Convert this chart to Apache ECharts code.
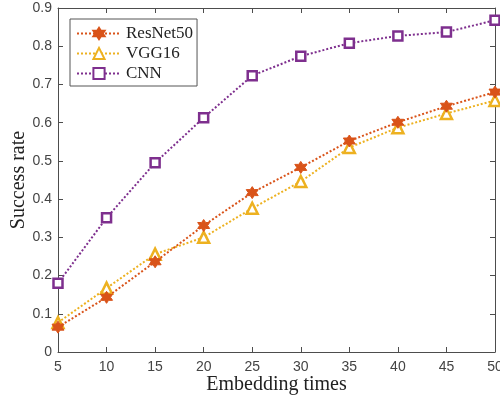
<!DOCTYPE html>
<html><head><meta charset="utf-8">
<script src="https://cdn.jsdelivr.net/npm/echarts@6/dist/echarts.min.js"></script>
<style>html,body{margin:0;padding:0;background:#fff}#c{width:500px;height:400px}</style>
</head><body><div id="c"></div>
<script>
const xValues = [5, 10, 15, 20, 25, 30, 35, 40, 45, 50];
const resnet50 = [0.065, 0.143, 0.236, 0.331, 0.417, 0.483, 0.552, 0.601, 0.643, 0.680];
const vgg16 = [0.077, 0.167, 0.256, 0.300, 0.376, 0.446, 0.535, 0.587, 0.624, 0.658];
const cnn = [0.180, 0.351, 0.495, 0.613, 0.723, 0.774, 0.808, 0.827, 0.837, 0.868];
const seriesNames = ['ResNet50', 'VGG16', 'CNN'];

const hexagram = 'path://M0,-10 L2.89,-5 L8.66,-5 L5.77,0 L8.66,5 L2.89,5 L0,10 L-2.89,5 L-8.66,5 L-5.77,0 L-8.66,-5 L-2.89,-5 Z';
const pairs = a => xValues.map((x, i) => [x, a[i]]);
const serif = 'Liberation Serif';
const axisGray = '#4d4d4d';

const chart = echarts.init(document.getElementById('c'));
chart.setOption({
  animation: false,
  grid: { left: 58, right: 5, top: 8, bottom: 48, containLabel: false, outerBoundsMode: 'none' },
  legend: {
    left: 70, top: 19, orient: 'vertical',
    backgroundColor: '#fff', borderColor: '#555', borderWidth: 1,
    padding: [6, 4, 4, 6], itemGap: 3, itemWidth: 44, itemHeight: 14,
    textStyle: { fontFamily: serif, fontSize: 17, color: '#222' },
    data: seriesNames
  },
  xAxis: [{
    type: 'value', min: 5, max: 50, interval: 5, position: 'bottom',
    name: 'Embedding times', nameLocation: 'middle', nameGap: 23, nameMoveOverlap: false,
    nameTextStyle: { fontFamily: serif, fontSize: 20, color: '#222' },
    axisLine: { lineStyle: { color: axisGray, width: 1 } },
    axisTick: { inside: true, length: 5, lineStyle: { color: axisGray } },
    axisLabel: { fontFamily: 'Liberation Sans', fontSize: 14, color: '#444', margin: 8 },
    splitLine: { show: false }
  }, {
    type: 'value', min: 5, max: 50, interval: 5, position: 'top',
    axisLine: { show: true, onZero: false, lineStyle: { color: axisGray } },
    axisTick: { inside: true, length: 5, lineStyle: { color: axisGray } },
    axisLabel: { show: false }, splitLine: { show: false }
  }],
  yAxis: [{
    type: 'value', min: 0, max: 0.9, interval: 0.1, position: 'left',
    name: 'Success rate', nameLocation: 'middle', nameGap: 29, nameMoveOverlap: false,
    nameTextStyle: { fontFamily: serif, fontSize: 20, color: '#222' },
    axisLine: { show: true, lineStyle: { color: axisGray } },
    axisTick: { show: true, inside: true, length: 5, lineStyle: { color: axisGray } },
    axisLabel: { fontFamily: 'Liberation Sans', fontSize: 14, color: '#444', margin: 6,
      formatter: v => (Math.round(v * 10) / 10).toString() },
    splitLine: { show: false }
  }, {
    type: 'value', min: 0, max: 0.9, interval: 0.1, position: 'right',
    axisLine: { show: true, onZero: false, lineStyle: { color: axisGray } },
    axisTick: { show: true, inside: true, length: 5, lineStyle: { color: axisGray } },
    axisLabel: { show: false }, splitLine: { show: false }
  }],
  series: [{
    name: 'ResNet50', type: 'line', data: pairs(resnet50),
    symbol: hexagram, symbolSize: 12, showAllSymbol: true,
    lineStyle: { color: '#D95319', width: 2, type: [2, 2] },
    itemStyle: { color: '#D95319', borderColor: '#D95319', borderWidth: 1 }, z: 3
  }, {
    name: 'VGG16', type: 'line', data: pairs(vgg16),
    symbol: 'triangle', symbolSize: 11,
    lineStyle: { color: '#EDB120', width: 2, type: [2, 2] },
    itemStyle: { color: '#fff', borderColor: '#EDB120', borderWidth: 2.5 }, z: 2
  }, {
    name: 'CNN', type: 'line', data: pairs(cnn),
    symbol: 'rect', symbolSize: 9,
    lineStyle: { color: '#7E2F8E', width: 2, type: [2, 2] },
    itemStyle: { color: '#fff', borderColor: '#7E2F8E', borderWidth: 2.5 }, z: 2
  }]
});
</script></body></html>
